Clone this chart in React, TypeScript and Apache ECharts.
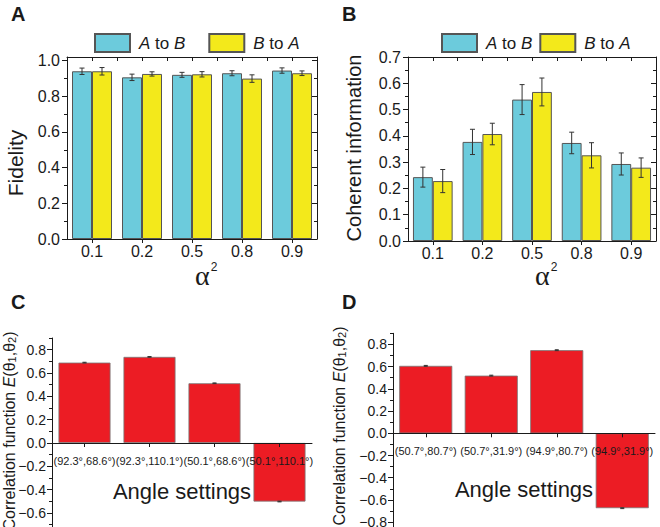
import React, { useEffect, useRef } from 'react';
import * as echarts from 'echarts';

const alphaCategories = ['0.1', '0.2', '0.5', '0.8', '0.9'];
const fidelityAtoB = [0.94, 0.906, 0.92, 0.929, 0.944];
const fidelityAtoBErr = [0.018, 0.018, 0.014, 0.014, 0.015];
const fidelityBtoA = [0.94, 0.925, 0.923, 0.899, 0.929];
const fidelityBtoAErr = [0.021, 0.012, 0.015, 0.021, 0.013];
const coherentAtoB = [0.243, 0.377, 0.538, 0.373, 0.293];
const coherentAtoBErr = [0.038, 0.048, 0.057, 0.041, 0.042];
const coherentBtoA = [0.228, 0.407, 0.567, 0.326, 0.279];
const coherentBtoAErr = [0.044, 0.041, 0.053, 0.048, 0.037];
const anglesC = ['(92.3°,68.6°)', '(92.3°,110.1°)', '(50.1°,68.6°)', '(50.1°,110.1°)'];
const correlationC = [0.689, 0.738, 0.512, -0.502];
const correlationCErr = [0.003, 0.003, 0.003, 0.003];
const anglesD = ['(50.7°,80.7°)', '(50.7°,31.9°)', '(94.9°,80.7°)', '(94.9°,31.9°)'];
const correlationD = [0.607, 0.519, 0.748, -0.674];
const correlationDErr = [0.004, 0.004, 0.004, 0.004];

const fidelityMajorTicks = [0, 0.2, 0.4, 0.6, 0.8, 1.0];
const fidelityMinorTicks = [0.1, 0.3, 0.5, 0.7, 0.9];
const coherentMajorTicks = [0, 0.1, 0.2, 0.3, 0.4, 0.5, 0.6, 0.7];
const coherentMinorTicks = [0.05, 0.15, 0.25, 0.35, 0.45, 0.55, 0.65];
const corrMajorTicksC = [-0.8, -0.6, -0.4, -0.2, 0, 0.2, 0.4, 0.6, 0.8];
const corrMajorTicksD = [-1.0, -0.8, -0.6, -0.4, -0.2, 0, 0.2, 0.4, 0.6, 0.8];
const corrMinorTicks = [-0.9, -0.7, -0.5, -0.3, -0.1, 0.1, 0.3, 0.5, 0.7, 0.9];
const halfCategoryTicks = [0.5, 1, 1.5, 2, 2.5, 3, 3.5, 4, 4.5];

const FONT = '"Liberation Sans", Arial, Helvetica, sans-serif';
const INK = '#1a1a1a';
const CYAN = '#6ccbdc';
const YELLOW = '#f3e91b';
const RED = '#ec1c24';

const fmt = (v: number) => (Math.abs(v) < 1e-9 ? '0.0' : v.toFixed(1).replace('-', '\u2212'));

function yAxisDef(grid: number, min: number, max: number, ticks: number[], pos: string, inside: boolean,
  opts: { length?: number; labels?: boolean; line?: boolean; fontSize?: number; margin?: number }) {
  return {
    type: 'value', gridIndex: grid, min, max, position: pos,
    axisLine: { show: opts.line !== false, onZero: false, lineStyle: { color: INK, width: 1 } },
    axisTick: { show: true, inside, length: opts.length ?? 5, customValues: ticks, lineStyle: { color: INK, width: 1 } },
    axisLabel: {
      show: !!opts.labels, customValues: ticks, fontSize: opts.fontSize ?? 16, fontFamily: FONT, color: INK,
      margin: opts.margin ?? 7, formatter: fmt,
    },
    splitLine: { show: false },
  };
}

function topFrame(grid: number) {
  return {
    type: 'value', gridIndex: grid, min: 0, max: 5, position: 'top',
    axisLine: { show: true, onZero: false, lineStyle: { color: INK, width: 1 } },
    axisTick: { show: true, inside: true, length: 4, customValues: halfCategoryTicks, lineStyle: { color: INK } },
    axisLabel: { show: false },
    splitLine: { show: false },
  };
}

function catAxis(grid: number, data: string[], fontSize: number, margin: number, extra: any = {}) {
  return {
    type: 'category', gridIndex: grid, data, position: 'bottom',
    axisLine: { show: true, onZero: false, lineStyle: { color: INK, width: 1 } },
    axisTick: { show: true, alignWithLabel: true, length: 4, inside: false, lineStyle: { color: INK } },
    axisLabel: { interval: 0, fontSize, fontFamily: FONT, color: INK, margin },
    splitLine: { show: false },
    ...extra,
  };
}

function errorRender(offsetFrac: number, cap: number) {
  return (params: any, api: any) => {
    const x = api.value(0);
    const y = api.value(1);
    const e = api.value(2);
    const top = api.coord([x, y + e]);
    const bot = api.coord([x, y - e]);
    const band = api.size([1, 0])[0];
    const cx = top[0] + offsetFrac * band;
    const style = { stroke: '#333', lineWidth: 1 };
    return {
      type: 'group',
      children: [
        { type: 'line', shape: { x1: cx, y1: top[1], x2: cx, y2: bot[1] }, style },
        { type: 'line', shape: { x1: cx - cap, y1: top[1], x2: cx + cap, y2: top[1] }, style },
        { type: 'line', shape: { x1: cx - cap, y1: bot[1], x2: cx + cap, y2: bot[1] }, style },
      ],
    };
  };
}

function errSeries(name: string, xi: number, yi: number, vals: number[], errs: number[], off: number, cap: number) {
  return {
    type: 'custom', name, xAxisIndex: xi, yAxisIndex: yi, z: 10,
    data: vals.map((v, i) => [i, v, errs[i]]),
    encode: { x: 0, y: 1 },
    renderItem: errorRender(off, cap),
  };
}

function barSeries(name: string, xi: number, yi: number, vals: number[], color: string, gap: string) {
  return {
    type: 'bar', name, xAxisIndex: xi, yAxisIndex: yi, data: vals,
    barGap: '0%', barCategoryGap: gap,
    itemStyle: { color, borderColor: '#555', borderWidth: 1 },
  };
}

const legendRich = { i: { fontStyle: 'italic', fontSize: 17, fontFamily: FONT, color: INK } };
const legendFmt = (name: string) => (name === 'A to B' ? '{i|A} to {i|B}' : '{i|B} to {i|A}');

function corrTitle(x: number, y: number) {
  return {
    type: 'text', x, y, rotation: Math.PI / 2,
    style: {
      text: '{n|Correlation function }{i|E}{n|(θ}{s|1}{n|,θ}{s|2}{n|)}',
      align: 'center', verticalAlign: 'middle',
      rich: {
        n: { fontSize: 16, fontFamily: FONT, fill: INK, lineHeight: 16, verticalAlign: 'top' },
        i: { fontSize: 16, fontFamily: FONT, fontStyle: 'italic', fill: INK, lineHeight: 16, verticalAlign: 'top' },
        s: { fontSize: 11, fontFamily: FONT, fill: INK, lineHeight: 11, verticalAlign: 'bottom', padding: [8, 0, 0, 0] },
      },
    },
  };
}

function letter(t: string, x: number, y: number) {
  return { type: 'text', x, y, style: { text: t, fontSize: 20, fontWeight: 'bold', fontFamily: FONT, fill: INK, align: 'left', verticalAlign: 'middle' } };
}

function alphaSq(x: number) {
  return {
    type: 'text', x, y: 275,
    style: {
      text: '{a|α}{s|2}', align: 'left', verticalAlign: 'middle',
      rich: {
        a: { fontSize: 28, fontFamily: '"Liberation Serif", "DejaVu Serif", serif', fill: INK, lineHeight: 28, verticalAlign: 'bottom' },
        s: { fontSize: 12, fontFamily: FONT, fill: INK, lineHeight: 12, verticalAlign: 'top', padding: [0, 0, 0, 1] },
      },
    },
  };
}

export default function App() {
  const ref = useRef<HTMLDivElement>(null);
  useEffect(() => {
    if (!ref.current) return;
    const chart = echarts.init(ref.current, undefined, { renderer: 'svg' });
    const option: any = {
      animation: false,
      backgroundColor: '#ffffff',
      textStyle: { fontFamily: FONT },
      grid: [
        { left: 67, top: 57, width: 250, height: 182, outerBoundsMode: 'none', containLabel: false },
        { left: 408, top: 57, width: 248, height: 184, outerBoundsMode: 'none', containLabel: false },
        { left: 52, top: 338, width: 260, height: 198.3, outerBoundsMode: 'none', containLabel: false },
        { left: 393, top: 333.3, width: 262, height: 211.1, outerBoundsMode: 'none', containLabel: false },
      ],
      legend: [
        {
          left: 94, top: 33, padding: 0, itemWidth: 35, itemHeight: 18, itemGap: 23, icon: 'rect',
          data: ['A to B', 'B to A'], formatter: legendFmt,
          textStyle: { fontSize: 17, fontFamily: FONT, color: INK, padding: [0, 0, 0, 4], rich: legendRich },
        },
        {
          left: 441, top: 33, padding: 0, itemWidth: 35, itemHeight: 18, itemGap: 7, icon: 'rect',
          data: ['A to B', 'B to A'], formatter: legendFmt,
          textStyle: { fontSize: 17, fontFamily: FONT, color: INK, padding: [0, 0, 0, 4], rich: legendRich },
        },
      ],
      xAxis: [
        catAxis(0, alphaCategories, 16, 4),
        topFrame(0),
        catAxis(1, alphaCategories, 16, 4),
        topFrame(1),
        catAxis(2, anglesC, 11, 12, {
          z: 5, offset: -93.3, name: 'Angle settings', nameLocation: 'middle', nameGap: 37,
          nameTextStyle: { fontSize: 22, fontFamily: FONT, color: INK },
        }),
        catAxis(3, anglesD, 11, 12, {
          z: 5, offset: -111.1, name: 'Angle settings', nameLocation: 'middle', nameGap: 45,
          nameTextStyle: { fontSize: 22, fontFamily: FONT, color: INK },
        }),
      ],
      yAxis: [
        yAxisDef(0, 0, 1.02, fidelityMajorTicks, 'left', false, { labels: true, length: 5 }),
        yAxisDef(0, 0, 1.02, fidelityMinorTicks, 'left', false, { length: 3, line: false }),
        yAxisDef(0, 0, 1.02, fidelityMajorTicks, 'right', true, { length: 5 }),
        yAxisDef(0, 0, 1.02, fidelityMinorTicks, 'right', true, { length: 3, line: false }),
        yAxisDef(1, 0, 0.7, coherentMajorTicks, 'left', false, { labels: true, length: 5 }),
        yAxisDef(1, 0, 0.7, coherentMinorTicks, 'left', false, { length: 3, line: false }),
        yAxisDef(1, 0, 0.7, coherentMajorTicks, 'right', true, { length: 5 }),
        yAxisDef(1, 0, 0.7, coherentMinorTicks, 'right', true, { length: 3, line: false }),
        yAxisDef(2, -0.8, 0.9, corrMajorTicksC, 'left', false, { labels: true, length: 5, fontSize: 14, margin: 6 }),
        yAxisDef(2, -0.8, 0.9, corrMinorTicks, 'left', false, { length: 3, line: false }),
        yAxisDef(3, -1.0, 0.9, corrMajorTicksD, 'left', false, { labels: true, length: 5, fontSize: 14, margin: 6 }),
        yAxisDef(3, -1.0, 0.9, corrMinorTicks, 'left', false, { length: 3, line: false }),
      ],
      series: [
        barSeries('A to B', 0, 0, fidelityAtoB, CYAN, '20%'),
        barSeries('B to A', 0, 0, fidelityBtoA, YELLOW, '20%'),
        errSeries('errFAB', 0, 0, fidelityAtoB, fidelityAtoBErr, -0.2, 2.5),
        errSeries('errFBA', 0, 0, fidelityBtoA, fidelityBtoAErr, 0.2, 2.5),
        barSeries('A to B', 2, 4, coherentAtoB, CYAN, '20%'),
        barSeries('B to A', 2, 4, coherentBtoA, YELLOW, '20%'),
        errSeries('errCAB', 2, 4, coherentAtoB, coherentAtoBErr, -0.2, 2.5),
        errSeries('errCBA', 2, 4, coherentBtoA, coherentBtoAErr, 0.2, 2.5),
        {
          type: 'bar', name: 'corrC', xAxisIndex: 4, yAxisIndex: 8, data: correlationC, barCategoryGap: '20%',
          itemStyle: { color: RED, borderColor: '#777', borderWidth: 0.8 },
        },
        errSeries('errCorrC', 4, 8, correlationC, correlationCErr, 0, 2),
        {
          type: 'bar', name: 'corrD', xAxisIndex: 5, yAxisIndex: 10, data: correlationD, barCategoryGap: '19%',
          itemStyle: { color: RED, borderColor: '#777', borderWidth: 0.8 },
        },
        errSeries('errCorrD', 5, 10, correlationD, correlationDErr, 0, 2),
      ],
      graphic: [
        letter('A', 11, 14),
        letter('B', 342, 14),
        letter('C', 11, 302),
        letter('D', 342, 302),
        {
          type: 'text', x: 15, y: 163, rotation: Math.PI / 2,
          style: { text: 'Fidelity', fontSize: 21, fontFamily: FONT, fill: INK, align: 'center', verticalAlign: 'middle' },
        },
        {
          type: 'text', x: 354, y: 148, rotation: Math.PI / 2,
          style: { text: 'Coherent information', fontSize: 20, fontFamily: FONT, fill: INK, align: 'center', verticalAlign: 'middle' },
        },
        alphaSq(195),
        alphaSq(535),
        corrTitle(9, 431),
        corrTitle(339, 426),
      ],
    };
    chart.setOption(option);
    return () => chart.dispose();
  }, []);
  return (
    <div
      ref={ref}
      style={{ position: 'fixed', left: 0, top: 0, width: 660, height: 527, background: '#ffffff' }}
    />
  );
}
